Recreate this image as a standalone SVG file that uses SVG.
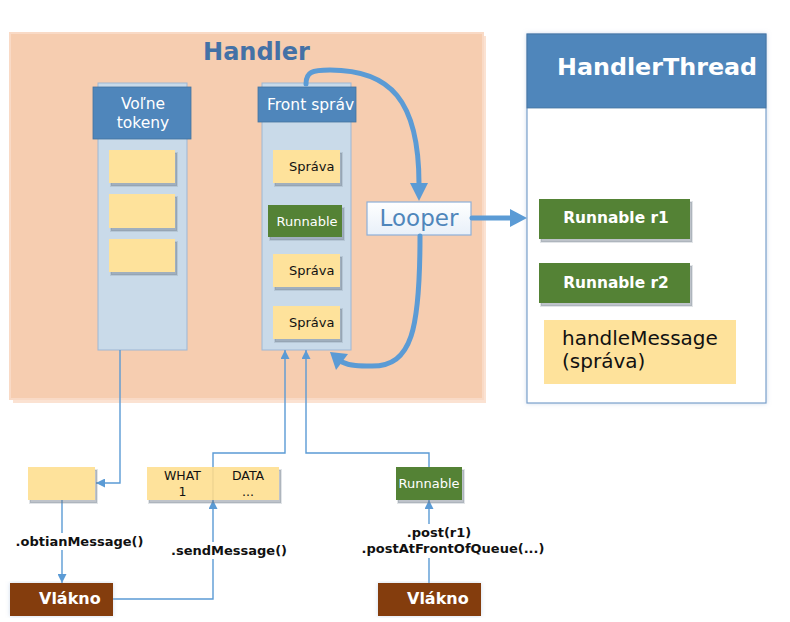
<svg xmlns="http://www.w3.org/2000/svg" width="790" height="622" viewBox="0 0 790 622">
<defs>
<filter id="sh2" x="-5%" y="-5%" width="110%" height="110%">
<feDropShadow dx="0" dy="0" stdDeviation="2" flood-color="#9fb8d8" flood-opacity="0.5"/>
</filter>
<linearGradient id="lg" x1="0" y1="0" x2="0" y2="1">
<stop offset="0" stop-color="#ffffff"/>
<stop offset="1" stop-color="#e8f0f9"/>
</linearGradient>
<marker id="a" viewBox="0 0 10 10" refX="10" refY="5" markerWidth="9" markerHeight="9" markerUnits="userSpaceOnUse" orient="auto">
<path d="M0,0 L10,5 L0,10 z" fill="#5b9bd5"/>
</marker>
</defs>
<style>
text{font-family:"DejaVu Sans","Liberation Sans",sans-serif}
.col{fill:#c9dae9;stroke:#9db7d4;stroke-width:1}
.hdr{fill:#4f86bb;stroke:#45739f;stroke-width:0.8}
.yel{fill:#fee29b}
.grn{fill:#548235}
.brn{fill:#843c0c}
.sd{fill:#6f7b8a;fill-opacity:0.45;stroke:#6f7b8a;stroke-opacity:0.2;stroke-width:2}
.w{fill:#ffffff}
.k{fill:#111111}
.thin{fill:none;stroke:#5b9bd5;stroke-width:1.4}
.thick{fill:none;stroke:#5b9bd5;stroke-width:5;stroke-linecap:round}
.ah{fill:#5b9bd5}
.lbl{font-weight:bold;font-size:13px;fill:#111111;text-anchor:middle}
</style>

<g id="handler">
<rect x="13" y="36" width="473" height="367" fill="#fbe2d2"/>
<rect x="10" y="33" width="473" height="366" fill="#f6cdb0" stroke="#f9dac6" stroke-width="2"/>
<text x="256.5" y="60" font-size="24" font-weight="bold" fill="#4471a6" text-anchor="middle">Handler</text>
</g>

<g id="volne-tokeny">
<rect class="col" x="98" y="83" width="89" height="267"/>
<rect class="hdr" x="93" y="87" width="98" height="52"/>
<text class="w" x="143" y="109" font-size="15.5" text-anchor="middle">Voľne</text>
<text class="w" x="143" y="128" font-size="15.5" text-anchor="middle">tokeny</text>
<rect class="sd" x="111" y="153" width="66" height="33"/>
<rect class="yel" x="109" y="150" width="66" height="33"/>
<rect class="sd" x="111" y="197" width="66" height="34"/>
<rect class="yel" x="109" y="194" width="66" height="34"/>
<rect class="sd" x="111" y="242" width="66" height="33"/>
<rect class="yel" x="109" y="239" width="66" height="33"/>
</g>

<g id="front-sprav">
<rect class="col" x="262" y="83" width="89" height="267"/>
<rect class="hdr" x="258" y="87" width="98" height="35"/>
<text class="w" x="267" y="110" font-size="15.5">Front správ</text>
<rect class="sd" x="275" y="153" width="67" height="33"/>
<rect class="yel" x="273" y="150" width="67" height="33"/>
<text class="k" x="289" y="171" font-size="13">Správa</text>
<rect class="sd" x="270" y="208" width="74" height="32"/>
<rect class="grn" x="268" y="205" width="74" height="32"/>
<text class="w" x="307" y="226" font-size="13" text-anchor="middle">Runnable</text>
<rect class="sd" x="275" y="257" width="67" height="33"/>
<rect class="yel" x="273" y="254" width="67" height="33"/>
<text class="k" x="289" y="275" font-size="13">Správa</text>
<rect class="sd" x="275" y="309" width="67" height="33"/>
<rect class="yel" x="273" y="306" width="67" height="33"/>
<text class="k" x="289" y="327" font-size="13">Správa</text>
</g>

<g id="looper">
<rect x="367" y="202" width="104" height="33" fill="url(#lg)" stroke="#8eb0d8" stroke-width="1.2"/>
<text x="419" y="226" font-size="23" fill="#4f86bb" text-anchor="middle">Looper</text>
</g>

<g id="handler-thread">
<rect x="527" y="34" width="239" height="369" fill="#ffffff" stroke="#7aa0cb" stroke-width="1.2" filter="url(#sh2)"/>
<rect x="527" y="34" width="239" height="74" fill="#4f86bb" stroke="#45739f" stroke-width="0.8"/>
<text class="w" x="557" y="75" font-size="23.8" font-weight="bold">HandlerThread</text>
<rect class="sd" x="541" y="202" width="151" height="40"/>
<rect class="grn" x="539" y="199" width="151" height="40"/>
<text class="w" x="616" y="223" font-size="15.4" font-weight="bold" text-anchor="middle">Runnable r1</text>
<rect class="sd" x="541" y="266" width="151" height="40"/>
<rect class="grn" x="539" y="263" width="151" height="40"/>
<text class="w" x="616" y="288" font-size="15.4" font-weight="bold" text-anchor="middle">Runnable r2</text>
<rect class="yel" x="544" y="320" width="192" height="64"/>
<text class="k" x="562" y="345" font-size="20">handleMessage</text>
<text class="k" x="562" y="368" font-size="20">(správa)</text>
</g>

<g id="connectors">
<path class="thick" d="M306,84 C306,72 312,70 330,70 C390,70 419,100 419,184"/>
<polygon class="ah" points="419,201 410,183 428,183"/>
<path class="thick" d="M420,236 C420,330 412,366 372,366 C360,366 350,366 342,362"/>
<polygon class="ah" points="330,352 336,370 348,354"/>
<path class="thick" d="M472,218 L511,218" stroke-linecap="butt"/>
<polygon class="ah" points="510,209 527,218 510,227"/>
<path class="thin" d="M120,350 L120,483 L96,483" marker-end="url(#a)"/>
<path class="thin" d="M62,500 L62,583" marker-end="url(#a)"/>
<path class="thin" d="M113,599 L213,599 L213,500" marker-end="url(#a)"/>
<path class="thin" d="M213,468 L213,453 L285,453 L285,350" marker-end="url(#a)"/>
<path class="thin" d="M429,468 L429,453 L306,453 L306,350" marker-end="url(#a)"/>
<path class="thin" d="M429,583 L429,500" marker-end="url(#a)"/>
</g>

<g id="labels">
<rect x="14" y="533" width="132" height="17" fill="#ffffff"/>
<text class="lbl" x="79.5" y="546">.obtianMessage()</text>
<rect x="169" y="542" width="120" height="17" fill="#ffffff"/>
<text class="lbl" x="229" y="555">.sendMessage()</text>
<rect x="359" y="524" width="188" height="34" fill="#ffffff"/>
<text class="lbl" x="439" y="537">.post(r1)</text>
<text class="lbl" x="453" y="553">.postAtFrontOfQueue(...)</text>
</g>

<g id="token">
<rect class="sd" x="30" y="470" width="67" height="33"/>
<rect class="yel" x="28" y="467" width="67" height="33"/>
</g>

<g id="message">
<rect class="sd" x="149" y="470" width="132" height="33"/>
<rect class="yel" x="147" y="467" width="132" height="33"/>
<line x1="213" y1="467" x2="213" y2="500" stroke="#e9cf8c" stroke-width="1"/>
<text class="k" x="182.5" y="480" font-size="12.5" text-anchor="middle">WHAT</text>
<text class="k" x="182.5" y="496" font-size="12.5" text-anchor="middle">1</text>
<text class="k" x="248" y="480" font-size="12.5" text-anchor="middle">DATA</text>
<text class="k" x="248" y="496" font-size="12.5" text-anchor="middle">...</text>
</g>

<g id="runnable-new">
<rect class="sd" x="398" y="470" width="66" height="33"/>
<rect class="grn" x="396" y="467" width="66" height="33"/>
<text class="w" x="429" y="488" font-size="13" text-anchor="middle">Runnable</text>
</g>

<g id="vlakno-1">
<rect class="brn" x="10" y="583" width="103" height="33" filter="url(#sh2)"/>
<text class="w" x="39" y="604" font-size="16" font-weight="bold">Vlákno</text>
</g>

<g id="vlakno-2">
<rect class="brn" x="378" y="583" width="103" height="33" filter="url(#sh2)"/>
<text class="w" x="407" y="604" font-size="16" font-weight="bold">Vlákno</text>
</g>
</svg>
